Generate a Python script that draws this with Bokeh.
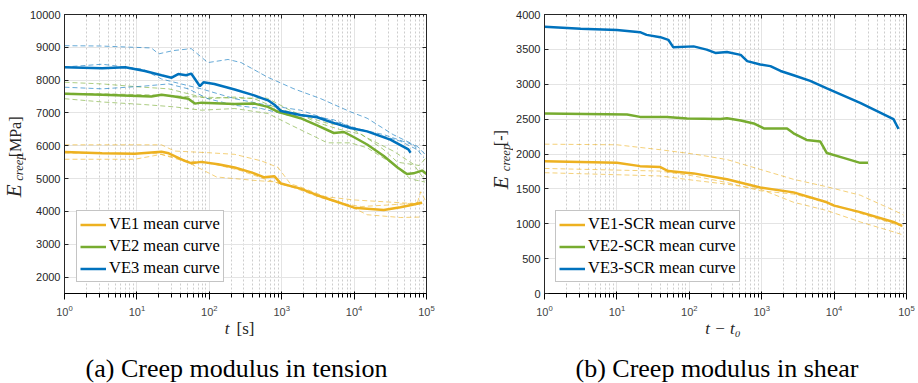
import numpy as np
from bokeh.plotting import figure
from bokeh.layouts import row, column
from bokeh.core.properties import value
from bokeh.models import (Range1d, FixedTicker, LogAxis, LinearAxis, Legend, LegendItem,
                          Label, CustomJSTickFormatter)
from bokeh.embed import file_html
from bokeh.resources import INLINE

# ---------------- data (time given as log10 exponent of t) ----------------
# (a) tension
ten_ve1_mean_logt = [0, 0.52, 0.97, 1.34, 1.44, 1.66, 1.75, 1.89, 2.12, 2.35, 2.58, 2.76, 2.9, 2.99, 3.26, 3.49, 3.72, 4.0, 4.18, 4.41, 4.64, 4.94]
ten_ve1_mean = [5812, 5770, 5760, 5820, 5770, 5540, 5470, 5510, 5440, 5340, 5190, 5040, 5070, 4850, 4695, 4495, 4325, 4115, 4085, 4045, 4125, 4265]
ten_ve2_mean_logt = [0, 0.52, 1.2, 1.34, 1.52, 1.71, 1.8, 1.89, 2.35, 2.62, 2.81, 2.95, 3.26, 3.49, 3.72, 3.86, 4.0, 4.18, 4.41, 4.6, 4.73, 4.82, 4.94, 5.0]
ten_ve2_mean = [7586, 7555, 7505, 7555, 7505, 7435, 7285, 7315, 7275, 7285, 7185, 7035, 6840, 6620, 6390, 6420, 6260, 6040, 5690, 5340, 5140, 5160, 5245, 5140]
ten_ve3_mean_logt = [0, 0.52, 0.84, 1.11, 1.34, 1.48, 1.57, 1.68, 1.75, 1.87, 1.92, 2.07, 2.35, 2.62, 2.81, 2.9, 2.99, 3.26, 3.49, 3.68, 3.95, 4.18, 4.5, 4.75, 4.78]
ten_ve3_mean = [8390, 8360, 8390, 8280, 8150, 8075, 8185, 8150, 8200, 7815, 7935, 7885, 7715, 7535, 7385, 7250, 7060, 6937, 6870, 6720, 6540, 6440, 6190, 5890, 5790]

ten_ve1_s1_logt = [0, 0.97, 1.34, 1.52, 1.98, 2.35, 2.72, 2.95, 3.12, 3.26, 3.6, 4.0, 4.41, 4.87, 4.92, 4.98]
ten_ve1_s1 = [6030, 6030, 6030, 5840, 5790, 5740, 5540, 5340, 4840, 4745, 4450, 4350, 4295, 4235, 4600, 4350]
ten_ve1_s2_logt = [0, 0.97, 1.34, 1.71, 2.07, 2.44, 2.76, 2.99, 3.26, 3.54, 3.91, 4.18, 4.64, 4.94]
ten_ve1_s2 = [5590, 5590, 5740, 5540, 5440, 5240, 4990, 4840, 4695, 4440, 4195, 3900, 3815, 3830]
ten_ve1_s3_logt = [0, 1.3, 1.7, 2.1, 2.6, 2.9, 3.2, 3.5, 3.8, 4.1, 4.5, 4.8, 4.95]
ten_ve1_s3 = [5780, 5760, 5500, 5050, 4950, 4900, 4700, 4450, 4250, 4150, 4200, 4250, 4300]

ten_ve2_s1_logt = [0, 0.52, 1.08, 1.44, 1.71, 1.98, 2.35, 2.62, 2.95, 3.26, 3.63, 3.91, 4.18, 4.54, 4.82, 4.98]
ten_ve2_s1 = [7935, 7885, 7785, 7735, 7585, 7435, 7485, 7435, 7135, 6937, 6690, 6590, 6240, 5840, 5440, 4940]
ten_ve2_s2_logt = [0, 0.52, 1.11, 1.52, 1.89, 2.35, 2.81, 3.12, 3.4, 3.63, 3.95, 4.18, 4.54, 4.78, 4.98]
ten_ve2_s2 = [7435, 7335, 7255, 7185, 7085, 7135, 6985, 6640, 6340, 6090, 6090, 5940, 5440, 4990, 4895]
ten_ve2_s3_logt = [0, 0.6, 1.2, 1.7, 2.35, 2.8, 3.1, 3.5, 3.8, 4.1, 4.4, 4.6, 4.9, 5.0]
ten_ve2_s3 = [7600, 7580, 7550, 7500, 7450, 7450, 7100, 6700, 6500, 6350, 5900, 5500, 5400, 5650]

ten_ve3_s1_logt = [0, 0.5, 0.97, 1.2, 1.3, 1.5, 1.75, 1.98, 2.26, 2.44, 2.81, 3.17, 3.54, 3.95, 4.18, 4.54, 4.82, 4.96]
ten_ve3_s1 = [9050, 9040, 9000, 8980, 8800, 8900, 8960, 8535, 8630, 8535, 8085, 7735, 7435, 7035, 6840, 6340, 6040, 5640]
ten_ve3_s2_logt = [0, 0.52, 1.08, 1.34, 1.61, 1.89, 2.35, 2.81, 3.26, 3.72, 4.18, 4.64, 4.91]
ten_ve3_s2 = [8400, 8485, 8335, 8035, 7885, 7735, 7435, 7235, 7085, 6740, 6440, 6140, 5840]
ten_ve3_s3_logt = [0, 0.52, 1.08, 1.44, 1.71, 1.98, 2.35, 2.72, 3.08, 3.45, 3.72, 4.0, 4.41, 4.87, 4.98]
ten_ve3_s3 = [7785, 7735, 7815, 7885, 7735, 7435, 7235, 7135, 6937, 6890, 6790, 6540, 6340, 5990, 5740]

# (b) shear
sh_ve1_mean_logt = [0, 1.0, 1.32, 1.6, 1.71, 2.06, 2.52, 2.98, 3.44, 3.9, 4.0, 4.36, 4.82, 4.94]
sh_ve1_mean = [1897, 1873, 1826, 1812, 1755, 1722, 1637, 1520, 1450, 1308, 1260, 1167, 1026, 970]
sh_ve2_mean_logt = [0, 1.14, 1.32, 1.69, 1.97, 2.43, 2.52, 2.71, 2.89, 3.03, 3.35, 3.44, 3.62, 3.81, 3.9, 4.13, 4.36, 4.47]
sh_ve2_mean = [2579, 2565, 2532, 2532, 2508, 2503, 2513, 2480, 2438, 2367, 2367, 2296, 2202, 2179, 2014, 1944, 1873, 1873]
sh_ve3_mean_logt = [0, 0.5, 1.0, 1.32, 1.41, 1.6, 1.71, 1.78, 2.06, 2.24, 2.36, 2.52, 2.71, 2.8, 2.98, 3.12, 3.26, 3.44, 3.67, 3.9, 4.36, 4.82, 4.86, 4.89]
sh_ve3_mean = [3825, 3797, 3778, 3746, 3708, 3675, 3637, 3529, 3543, 3496, 3449, 3463, 3421, 3331, 3284, 3260, 3190, 3129, 3049, 2941, 2734, 2500, 2420, 2360]

sh_ve1_s1_logt = [0, 1.0, 1.6, 2.06, 2.52, 2.98, 3.44, 3.9, 4.36, 4.82, 4.96]
sh_ve1_s1 = [2141, 2132, 2061, 2000, 1920, 1779, 1637, 1530, 1410, 1195, 1125]
sh_ve1_s2_logt = [0, 1.6, 2.06, 2.52, 2.98, 3.44, 3.9, 4.36, 4.82, 4.96]
sh_ve1_s2 = [1793, 1755, 1685, 1590, 1473, 1425, 1308, 1150, 1000, 960]
sh_ve1_s3_logt = [0, 1.6, 2.06, 2.52, 2.98, 3.44, 3.9, 4.36, 4.82, 4.96]
sh_ve1_s3 = [1732, 1685, 1623, 1567, 1497, 1308, 1190, 1026, 884, 837]

ten_yticks = [2000, 3000, 4000, 5000, 6000, 7000, 8000, 9000, 10000]
sh_yticks = [0, 500, 1000, 1500, 2000, 2500, 3000, 3500, 4000]
x_decades = [1, 10, 100, 1000, 10000, 100000]

ten_legend = ["VE1 mean curve", "VE2 mean curve", "VE3 mean curve"]
sh_legend = ["VE1-SCR mean curve", "VE2-SCR mean curve", "VE3-SCR mean curve"]

C_OR, C_GR, C_BL = "#EDB120", "#77AC30", "#0072BD"
INK = "#262626"
SERIF = "Liberation Serif, serif"
SANS = "Liberation Sans, sans-serif"

minor_x = [m * d for d in x_decades[:-1] for m in range(2, 10)]

HALF_W = 459
MAIN_H = 318
CAP_H = 383 - MAIN_H


def t(logt):
    return np.power(10.0, np.array(logt, dtype=float))


def blank(width, height):
    # a plain text canvas whose data units are pixels
    f = figure(width=width, height=height, x_axis_location=None, y_axis_location=None,
               min_border=0, output_backend="svg", toolbar_location=None, title=None,
               x_range=Range1d(0, width), y_range=Range1d(0, height))
    f.outline_line_color = None
    f.grid.visible = False
    return f


def make_panel(width, border_left, border_right, yr, yticks):
    p = figure(x_axis_type="log", x_range=Range1d(1, 1e5), y_range=Range1d(*yr),
               width=width, height=MAIN_H, title=None,
               min_border_left=border_left, min_border_right=border_right,
               min_border_top=14, min_border_bottom=MAIN_H - 14 - 284,
               output_backend="svg", toolbar_location=None,
               background_fill_color="white", border_fill_color="white")
    xt = FixedTicker(ticks=x_decades, minor_ticks=minor_x)
    yt = FixedTicker(ticks=yticks, minor_ticks=[])
    p.xaxis.ticker = xt
    p.yaxis.ticker = yt
    p.xgrid.ticker = xt
    p.ygrid.ticker = yt
    p.xgrid.grid_line_color = "#e4e4e4"
    p.ygrid.grid_line_color = "#e4e4e4"
    p.xgrid.minor_grid_line_color = "#cdcdcd"
    p.xgrid.minor_grid_line_dash = "2 2"
    p.outline_line_color = INK
    top = LogAxis(ticker=xt, formatter=CustomJSTickFormatter(code="return ''"))
    right = LinearAxis(ticker=yt, formatter=CustomJSTickFormatter(code="return ''"))
    p.add_layout(top, "above")
    p.add_layout(right, "right")
    for ax in [p.xaxis[0], p.yaxis[0], top, right]:
        ax.axis_line_color = INK
        ax.major_tick_line_color = INK
        ax.minor_tick_line_color = INK
        ax.major_tick_in = 4
        ax.major_tick_out = 0
        ax.minor_tick_in = 2
        ax.minor_tick_out = 0
        ax.major_label_text_font = SANS
        ax.major_label_text_font_size = "11px"
        ax.major_label_text_color = INK
    for ax in [top, right]:
        ax.major_label_text_color = None
        ax.major_label_standoff = 0
    p.yaxis[0].minor_tick_line_color = None
    right.minor_tick_line_color = None
    p.yaxis[0].major_label_standoff = 4
    p.xaxis[0].major_label_standoff = 6
    return p


def dashed(p, lt, v, c):
    p.line(t(lt), v, line_color=c, line_width=1, line_alpha=0.6, line_dash="5 3")


def mean(p, lt, v, c):
    return p.line(t(lt), v, line_color=c, line_width=2.5)


def add_legend(p, labels, rends, loc):
    items = [LegendItem(label=l, renderers=[r]) for l, r in zip(labels, rends)]
    lg = Legend(items=items, location=loc, label_text_font=SERIF, label_text_font_size="16.5px",
                label_text_color="black", glyph_width=26, glyph_height=17, label_height=17,
                label_standoff=3, spacing=2, padding=3, margin=0,
                border_line_color="#8a8a8a", border_line_width=1, background_fill_alpha=1)
    p.add_layout(lg)


def lab(p, x, y, text, size, style="normal", color=INK):
    # horizontal text centred on (x, y) pixels from the bottom-left of the blank figure
    p.add_layout(Label(x=x, y=y, x_units="screen", y_units="screen", text=text,
                       text_font=SERIF, text_font_size=size, text_font_style=style,
                       text_align="center", text_baseline="middle", text_color=color))


def vlab(p, x, y, text, size, style="normal"):
    # vertical (bottom-to-top) text centred near (x, y) pixels of the blank figure
    p.text(x=[x], y=[y], text=[text], angle=np.pi / 2,
           text_font=value(SERIF), text_font_size=value(size), text_font_style=style,
           text_align="center", text_baseline="middle", text_color=INK)


# ---------------- (a) tension ----------------
YL1 = 26
p1 = make_panel(HALF_W - YL1, 62 - YL1, 33, (1500, 10000), ten_yticks)
for lt, v in [(ten_ve1_s1_logt, ten_ve1_s1), (ten_ve1_s2_logt, ten_ve1_s2), (ten_ve1_s3_logt, ten_ve1_s3)]:
    dashed(p1, lt, v, C_OR)
for lt, v in [(ten_ve2_s1_logt, ten_ve2_s1), (ten_ve2_s2_logt, ten_ve2_s2), (ten_ve2_s3_logt, ten_ve2_s3)]:
    dashed(p1, lt, v, C_GR)
for lt, v in [(ten_ve3_s1_logt, ten_ve3_s1), (ten_ve3_s2_logt, ten_ve3_s2), (ten_ve3_s3_logt, ten_ve3_s3)]:
    dashed(p1, lt, v, C_BL)
r1 = mean(p1, ten_ve1_mean_logt, ten_ve1_mean, C_OR)
r2 = mean(p1, ten_ve2_mean_logt, ten_ve2_mean, C_GR)
r3 = mean(p1, ten_ve3_mean_logt, ten_ve3_mean, C_BL)
add_legend(p1, ten_legend, [r1, r2, r3], (12, 11))

y1 = blank(YL1, MAIN_H)
vlab(y1, 13.5, MAIN_H - 201, "E", "21px", "italic")
vlab(y1, 18, MAIN_H - 174, "creep", "12.5px", "italic")
vlab(y1, 14.5, MAIN_H - 139.5, "[MPa]", "16px", "normal")

c1 = blank(HALF_W, CAP_H)
lab(c1, 226.5, 383 - 327.5, "t", "17px", "italic")
lab(c1, 245, 383 - 327.5, "[s]", "17px")
lab(c1, 236, 383 - 368, "(a) Creep modulus in tension", "26px", color="black")

# ---------------- (b) shear ----------------
YL2 = 54
p2 = make_panel(HALF_W - YL2, 83 - YL2, 12, (0, 4000), sh_yticks)
for lt, v in [(sh_ve1_s1_logt, sh_ve1_s1), (sh_ve1_s2_logt, sh_ve1_s2), (sh_ve1_s3_logt, sh_ve1_s3)]:
    dashed(p2, lt, v, C_OR)
q1 = mean(p2, sh_ve1_mean_logt, sh_ve1_mean, C_OR)
q2 = mean(p2, sh_ve2_mean_logt, sh_ve2_mean, C_GR)
q3 = mean(p2, sh_ve3_mean_logt, sh_ve3_mean, C_BL)
add_legend(p2, sh_legend, [q1, q2, q3], (11, 11))

y2 = blank(YL2, MAIN_H)
vlab(y2, 41.5, MAIN_H - 192, "E", "21px", "italic")
vlab(y2, 46, MAIN_H - 163, "creep", "12.5px", "italic")
vlab(y2, 41, MAIN_H - 141, "[-]", "16px", "normal")

c2 = blank(HALF_W, CAP_H)
lab(c2, 722.5 - HALF_W, 383 - 327.5, "t − t₀", "17px", "italic")
lab(c2, 716.5 - HALF_W, 383 - 368, "(b) Creep modulus in shear", "26px", color="black")

layout = row(column(row(y1, p1), c1), column(row(y2, p2), c2))
open("out.html", "w").write(file_html(layout, INLINE))
